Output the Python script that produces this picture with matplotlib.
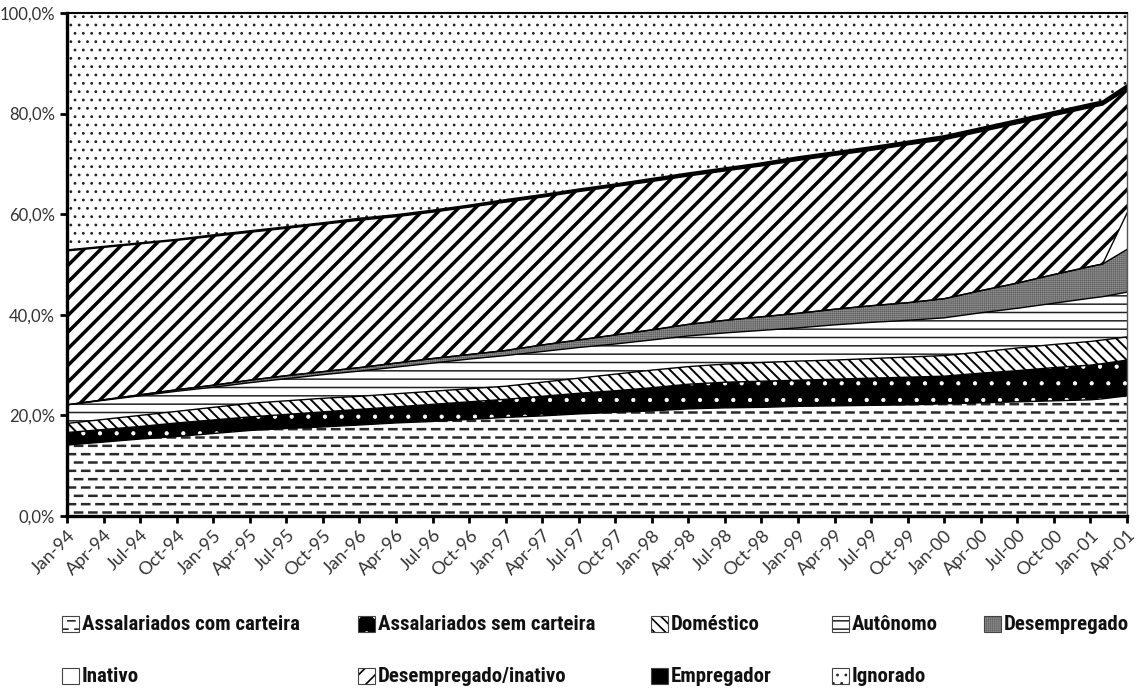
import warnings
import numpy as np
import matplotlib
matplotlib.use("Agg")
import matplotlib.pyplot as plt
import matplotlib.hatch as mhatch
from matplotlib import font_manager
from matplotlib.path import Path
from matplotlib.patches import Rectangle

warnings.filterwarnings("ignore")

# month index counted from Jan-94 (quarterly, then Feb-01 and Apr-01)
months = [0, 3, 6, 9, 12, 15, 18, 21, 24, 27, 30, 33, 36, 39, 42, 45, 48, 51, 54,
          57, 60, 63, 66, 69, 72, 75, 78, 81, 84, 85, 87]

com_carteira = [14.1, 14.7, 15.3, 15.8, 16.4, 17.0, 17.4, 17.7, 18.1, 18.5, 18.8,
                19.2, 19.6, 19.9, 20.3, 20.6, 20.9, 21.3, 21.5, 21.6, 21.8, 21.9,
                22.0, 22.1, 22.3, 22.5, 22.7, 22.9, 23.1, 23.3, 23.9]
sem_carteira = [2.5, 2.5, 2.5, 2.7, 2.7, 2.7, 2.8, 3.0, 3.1, 3.2, 3.4, 3.5, 3.6,
                3.9, 4.1, 4.3, 4.6, 4.9, 5.1, 5.2, 5.2, 5.3, 5.4, 5.5, 5.5, 5.9,
                6.2, 6.6, 6.9, 7.0, 7.1]
domestico = [1.8, 2.0, 2.2, 2.3, 2.5, 2.7, 2.7, 2.7, 2.6, 2.6, 2.6, 2.6, 2.6, 2.8,
             3.0, 3.3, 3.5, 3.5, 3.6, 3.7, 3.8, 3.8, 3.9, 4.0, 4.1, 4.2, 4.5, 4.6,
             4.7, 4.7, 4.6]
autonomo = [3.7, 3.8, 3.9, 4.0, 4.0, 4.1, 4.4, 4.7, 5.0, 5.3, 5.6, 5.9, 6.1, 6.1,
            6.1, 6.0, 6.0, 6.1, 6.2, 6.4, 6.6, 7.0, 7.2, 7.3, 7.5, 7.8, 7.9, 8.2,
            8.6, 8.6, 8.9]
desempregado = [0.0, 0.1, 0.2, 0.3, 0.4, 0.5, 0.6, 0.6, 0.7, 0.8, 0.9, 0.9, 1.0,
                1.3, 1.5, 1.8, 2.0, 2.3, 2.5, 2.7, 2.9, 3.1, 3.3, 3.5, 3.8, 4.4,
                5.0, 5.7, 6.3, 6.5, 8.5]
inativo = [0.0] * 29 + [0.0, 7.2]
desemp_inativo = [30.6, 30.3, 30.0, 29.7, 29.6, 29.4, 29.3, 29.3, 29.3, 29.1, 29.1,
                  29.3, 29.5, 29.4, 29.5, 29.5, 29.5, 29.5, 29.7, 30.0, 30.4, 30.6,
                  30.9, 31.4, 31.6, 31.6, 31.7, 31.6, 31.6, 31.6, 24.6]
empregador = [0.2, 0.2, 0.2, 0.2, 0.3, 0.3, 0.3, 0.3, 0.4, 0.4, 0.4, 0.4, 0.5, 0.5,
              0.5, 0.5, 0.6, 0.6, 0.6, 0.6, 0.7, 0.7, 0.7, 0.7, 0.8, 0.8, 0.8, 0.8,
              0.8, 0.8, 0.9]
ignorado = [47.1, 46.4, 45.7, 45.0, 44.1, 43.3, 42.5, 41.7, 40.8, 40.1, 39.2, 38.2,
            37.1, 36.1, 35.0, 34.0, 32.9, 31.8, 30.8, 29.8, 28.6, 27.6, 26.6, 25.5,
            24.4, 22.8, 21.2, 19.6, 18.0, 17.5, 14.3]

tick_labels = ["Jan-94", "Apr-94", "Jul-94", "Oct-94", "Jan-95", "Apr-95", "Jul-95",
               "Oct-95", "Jan-96", "Apr-96", "Jul-96", "Oct-96", "Jan-97", "Apr-97",
               "Jul-97", "Oct-97", "Jan-98", "Apr-98", "Jul-98", "Oct-98", "Jan-99",
               "Apr-99", "Jul-99", "Oct-99", "Jan-00", "Apr-00", "Jul-00", "Oct-00",
               "Jan-01", "Apr-01"]


# short staggered dashes for the "com carteira" area ('_' in a hatch string)
class DashRows(mhatch.HatchPatternBase):
    def __init__(self, hatch, density):
        self.rows = hatch.count("_") * 12
        self.per_row = 7
        even = (self.rows + 1) // 2
        odd = self.rows // 2
        self.num_vertices = 2 * (even * self.per_row + odd * (self.per_row + 1))

    def set_vertices_and_codes(self, vertices, codes):
        p = 1.0 / self.per_row
        d = 0.5 * p
        k = 0
        for r in range(self.rows):
            y = (r + 0.5) / self.rows
            if r % 2 == 0:
                centers = (np.arange(self.per_row) + 0.5) * p
            else:
                centers = np.arange(self.per_row + 1) * p
            for c in centers:
                vertices[k] = (c - d / 2, y)
                vertices[k + 1] = (c + d / 2, y)
                codes[k] = Path.MOVETO
                codes[k + 1] = Path.LINETO
                k += 2


mhatch._hatch_types.append(DashRows)

# pick a narrow font for the legend if one is installed
legend_font = dict(family="Roboto", stretch="normal")
installed = font_manager.fontManager.ttflist
names = {f.name for f in installed}
for cand in ["Liberation Sans Narrow", "Roboto Condensed", "Open Sans Condensed",
             "Noto Sans Condensed", "DejaVu Sans Condensed"]:
    if cand in names:
        legend_font = dict(family=cand, stretch="normal")
        break
else:
    if any(f.name == "DejaVu Sans" and f.stretch == "condensed" for f in installed):
        legend_font = dict(family="DejaVu Sans", stretch="condensed")

styles = [
    ("Assalariados com carteira", com_carteira, "white", "#2a2a2a", "_", 1.8),
    ("Assalariados sem carteira", sem_carteira, "black", "white", ".", 0.6),
    ("Doméstico", domestico, "white", "black", "\\\\\\", 1.4),
    ("Autônomo", autonomo, "white", "#222222", "--", 1.1),
    ("Desempregado", desempregado, "#8f8f8f", "#5e5e5e", "++++++++", 0.35),
    ("Inativo", inativo, "white", "black", "", 1.0),
    ("Desempregado/inativo", desemp_inativo, "white", "black", "//", 2.5),
    ("Empregador", empregador, "black", "black", "", 1.0),
    ("Ignorado", ignorado, "white", "#222222", "..", 0.8),
]

fig = plt.figure(figsize=(11.38, 6.89), dpi=100)
ax = fig.add_axes([67 / 1138, 1 - 516 / 689, 1060 / 1138, 503 / 689])

bottom = np.zeros(len(months))
for name, vals, fc, hc, hatch, hlw in styles:
    top = bottom + np.array(vals)
    with plt.rc_context({"hatch.linewidth": hlw}):
        coll = ax.fill_between(months, bottom, top, facecolor=fc, edgecolor=hc,
                               hatch=hatch, linewidth=0)
    if hasattr(coll, "set_hatch_linewidth"):
        coll.set_hatch_linewidth(hlw)
    if name != "Ignorado":
        ax.plot(months, top, color="black", lw=1.0)
    bottom = top

ax.set_xlim(0, 87)
ax.set_ylim(0, 100)
ax.set_xticks(range(0, 88, 3))
ax.set_xticklabels(tick_labels, rotation=45, ha="right", rotation_mode="anchor",
                   fontsize=13, color="#333333", family="Lato")
ax.set_yticks(range(0, 101, 20))
ax.set_yticklabels(["0,0%", "20,0%", "40,0%", "60,0%", "80,0%", "100,0%"],
                   fontsize=12, color="#333333", family="Lato")
ax.tick_params(axis="both", direction="out", length=5, width=2, color="black")
ax.tick_params(axis="x", pad=3)
for side in ["left", "bottom"]:
    ax.spines[side].set_linewidth(2.4)
ax.spines["top"].set_linewidth(1.5)
ax.spines["right"].set_linewidth(1.0)
ax.spines["right"].set_color("#555555")

# legend laid out as in the original (two rows, uneven columns)
legend_pos = [(62, 624), (358, 624), (651, 624), (832, 624), (984, 624),
              (62, 676), (358, 676), (651, 676), (832, 676)]
texts = []
for (name, vals, fc, hc, hatch, hlw), (lx, ly) in zip(styles, legend_pos):
    x0 = lx / 1138
    y0 = 1 - (ly + 8) / 689
    with plt.rc_context({"hatch.linewidth": min(hlw, 1.2)}):
        box = Rectangle((x0, y0), 17 / 1138, 16 / 689, transform=fig.transFigure,
                        facecolor=fc, edgecolor=hc, hatch=hatch, linewidth=0)
    fig.add_artist(box)
    fig.add_artist(Rectangle((x0, y0), 17 / 1138, 16 / 689, transform=fig.transFigure,
                             facecolor="none", edgecolor="#444444", linewidth=0.8))
    texts.append(fig.text(x0 + 20 / 1138, 1 - ly / 689, name, fontsize=15,
                          fontweight="bold", va="center", color="#111111",
                          **legend_font))

# fit the legend text width to the space the original gives it
renderer = fig.canvas.get_renderer()
w = texts[0].get_window_extent(renderer).width
size = min(15, 15 * 242 / w)
for t in texts:
    t.set_fontsize(size)

fig.savefig("out.png", dpi=100)
